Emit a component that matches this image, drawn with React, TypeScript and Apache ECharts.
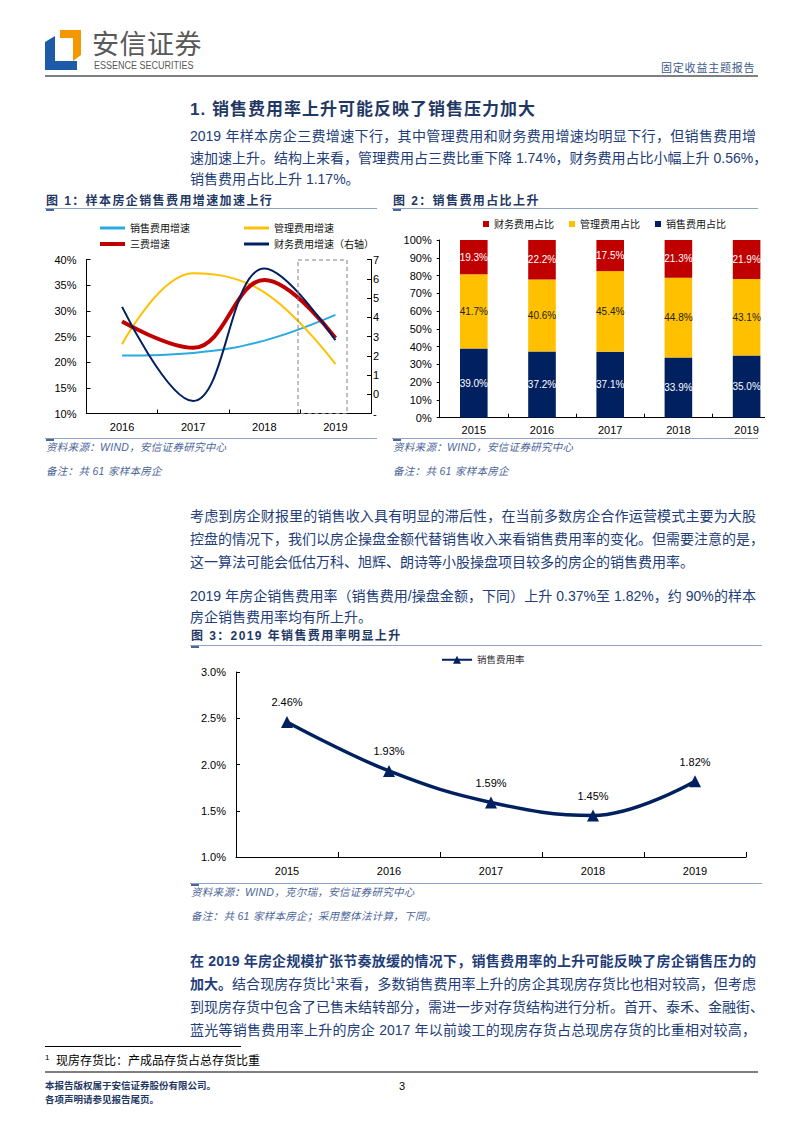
import React, { useEffect, useRef } from "react";
import * as echarts from "echarts";

// ---------- data ----------
const years1 = ["2016", "2017", "2018", "2019"];
const salesGrowth = [21.3, 21.8, 24.2, 29.2];
const adminGrowth = [23.5, 37.3, 33.6, 19.6];
const totalGrowth = [27.9, 22.8, 36.0, 24.7];
const financeGrowth = [45.4, -3.5, 65.3, 28.1];
const seriesNames1 = ["销售费用增速", "管理费用增速", "三费增速", "财务费用增速（右轴）"];

const years2 = ["2015", "2016", "2017", "2018", "2019"];
const salesShare = [39.0, 37.2, 37.1, 33.9, 35.0];
const adminShare = [41.7, 40.6, 45.4, 44.8, 43.1];
const financeShare = [19.3, 22.2, 17.5, 21.3, 21.9];
const seriesNames2 = ["财务费用占比", "管理费用占比", "销售费用占比"];

const years3 = ["2015", "2016", "2017", "2018", "2019"];
const salesRate = [2.46, 1.93, 1.59, 1.45, 1.82];
const seriesName3 = "销售费用率";

// ---------- styles ----------
const FONT = '"Liberation Sans", "Noto Sans CJK SC", sans-serif';
const TEXT = "#223d78";
const NAVY = "#002060";
const RED = "#c00000";
const YELLOW = "#ffc000";
const SKY = "#29abe2";
const RULE = "#8fa3c6";
const SRC = "#4a6598";

const abs = (o: any): React.CSSProperties => ({ position: "absolute", ...o });

function Line({ top, children, justify = true, bold = false }: any) {
  return (
    <div
      style={abs({
        left: 190,
        top: top - 11,
        width: 566,
        height: 22,
        lineHeight: "22px",
        fontSize: 14,
        color: TEXT,
        fontWeight: bold ? 700 : 400,
        textAlign: justify ? "justify" : "left",
        textAlignLast: justify ? "justify" : "left",
        whiteSpace: "nowrap",
      })}
    >
      {children}
    </div>
  );
}

function Rule({ left, top, width, tab = true }: any) {
  return (
    <>
      <div style={abs({ left, top, width, height: 1.2, background: RULE })} />
      {tab && <div style={abs({ left: left + 1, top: top + 1, width: 8, height: 2, background: SRC })} />}
    </>
  );
}

function FigTitle({ left, top, children }: any) {
  return (
    <div
      style={abs({
        left,
        top: top - 9,
        height: 18,
        lineHeight: "18px",
        fontSize: 12,
        letterSpacing: 1.4,
        fontWeight: 700,
        color: "#1f3864",
        whiteSpace: "nowrap",
      })}
    >
      {children}
    </div>
  );
}

function Src({ left, top, children }: any) {
  return (
    <div
      style={abs({
        left,
        top: top - 8,
        height: 16,
        lineHeight: "16px",
        fontSize: 10.5,
        fontStyle: "italic",
        color: SRC,
        whiteSpace: "nowrap",
        letterSpacing: 0.3,
      })}
    >
      {children}
    </div>
  );
}

export default function App() {
  const r1 = useRef<HTMLDivElement>(null);
  const r2 = useRef<HTMLDivElement>(null);
  const r3 = useRef<HTMLDivElement>(null);

  useEffect(() => {
    const c1 = echarts.init(r1.current!, null, { renderer: "svg" });
    const c2 = echarts.init(r2.current!, null, { renderer: "svg" });
    const c3 = echarts.init(r3.current!, null, { renderer: "svg" });

    const axisBase = {
      axisLine: { show: true, onZero: false, lineStyle: { color: "#000", width: 1 } },
      axisTick: { show: true, inside: true, length: 4, lineStyle: { color: "#000" } },
      splitLine: { show: false },
    };
    const legendItem = (name: string, left: number, top: number, h: number) => ({
      data: [name],
      left,
      top,
      padding: 0,
      icon: "rect",
      itemWidth: 25,
      itemHeight: h,
      selectedMode: false,
      textStyle: { fontSize: 10, color: "#111" },
    });

    const colors1 = [SKY, YELLOW, RED, NAVY];
    const widths1 = [2, 2, 4, 2];
    const data1 = [salesGrowth, adminGrowth, totalGrowth, financeGrowth];

    c1.setOption({
      animation: false,
      textStyle: { fontFamily: FONT },
      grid: { left: 41.5, top: 47.5, width: 284.5, height: 154 },
      legend: [
        legendItem(seriesNames1[0], 55, 11, 3),
        legendItem(seriesNames1[2], 55, 27, 4),
        legendItem(seriesNames1[1], 199, 11, 3),
        legendItem(seriesNames1[3], 199, 27, 3),
      ],
      xAxis: {
        type: "category",
        data: years1,
        ...axisBase,
        axisLabel: { color: "#000", fontSize: 11, margin: 8 },
      },
      yAxis: [
        {
          type: "value",
          min: 10,
          max: 40,
          interval: 5,
          ...axisBase,
          axisLabel: { color: "#000", fontSize: 11, margin: 10, formatter: "{value}%" },
        },
        {
          type: "value",
          position: "right",
          min: -10,
          max: 70,
          interval: 10,
          ...axisBase,
          // the reference frame cuts these labels down to their first glyph
          axisLabel: {
            color: "#000",
            fontSize: 11,
            margin: 2,
            formatter: (v: number) => `${v}%`.charAt(0),
          },
        },
      ],
      series: data1.map((d, i) => ({
        name: seriesNames1[i],
        type: "line",
        data: d,
        yAxisIndex: i === 3 ? 1 : 0,
        smooth: 0.4,
        showSymbol: false,
        symbol: "none",
        lineStyle: { color: colors1[i], width: widths1[i] },
        itemStyle: { color: colors1[i] },
      })),
      graphic: [
        {
          type: "rect",
          z: 100,
          shape: { x: 253, y: 48, width: 49, height: 153.5 },
          style: { fill: "none", stroke: "#808080", lineWidth: 1, lineDash: [4, 3] },
        },
      ],
    });

    const colors2 = [RED, YELLOW, NAVY];
    const data2 = [financeShare, adminShare, salesShare];
    const labelColors2 = ["#fff", "#222", "#fff"];
    const order2 = [2, 1, 0]; // stack bottom -> top
    c2.setOption({
      animation: false,
      textStyle: { fontFamily: FONT },
      grid: { left: 47.7, top: 28, width: 341, height: 177.7 },
      legend: {
        data: seriesNames2,
        left: 91,
        top: 7,
        padding: 0,
        icon: "rect",
        itemWidth: 6,
        itemHeight: 6,
        itemGap: 15,
        selectedMode: false,
        textStyle: { fontSize: 10, color: "#111" },
      },
      xAxis: {
        type: "category",
        data: years2,
        ...axisBase,
        axisLabel: { color: "#000", fontSize: 11, margin: 7 },
      },
      yAxis: {
        type: "value",
        min: 0,
        max: 100,
        interval: 10,
        ...axisBase,
        axisTick: { show: true, inside: false, length: 3, lineStyle: { color: "#000" } },
        axisLabel: { color: "#000", fontSize: 11, margin: 8, formatter: "{value}%" },
      },
      series: order2.map((i) => ({
        name: seriesNames2[i],
        type: "bar",
        stack: "share",
        data: data2[i],
        barWidth: 27.6,
        itemStyle: { color: colors2[i] },
        label: {
          show: true,
          position: "inside",
          color: labelColors2[i],
          fontSize: 10,
          formatter: (p: any) => `${Number(p.value).toFixed(1)}%`,
        },
      })),
    });

    c3.setOption({
      animation: false,
      textStyle: { fontFamily: FONT },
      grid: { left: 46, top: 22, width: 510, height: 185 },
      legend: {
        data: [seriesName3],
        left: 251,
        top: 5,
        padding: 0,
        itemWidth: 30,
        itemHeight: 10,
        selectedMode: false,
        textStyle: { fontSize: 9.5, color: "#333" },
      },
      xAxis: {
        type: "category",
        data: years3,
        ...axisBase,
        axisTick: { show: true, inside: true, length: 5, lineStyle: { color: "#000" } },
        axisLabel: { color: "#000", fontSize: 11, margin: 8 },
      },
      yAxis: {
        type: "value",
        min: 1,
        max: 3,
        interval: 0.5,
        ...axisBase,
        axisLabel: {
          color: "#000",
          fontSize: 11,
          margin: 10,
          formatter: (v: number) => `${v.toFixed(1)}%`,
        },
      },
      series: [
        {
          name: seriesName3,
          type: "line",
          data: salesRate,
          smooth: 0.4,
          symbol: "triangle",
          symbolSize: 12,
          lineStyle: { color: NAVY, width: 3.5 },
          itemStyle: { color: NAVY },
          label: {
            show: true,
            position: "top",
            distance: 8,
            color: "#000",
            fontSize: 11,
            formatter: (p: any) => `${Number(p.value).toFixed(2)}%`,
          },
        },
      ],
    });

    return () => {
      c1.dispose();
      c2.dispose();
      c3.dispose();
    };
  }, []);

  return (
    <div
      style={abs({
        left: 0,
        top: 0,
        width: 800,
        height: 1132,
        background: "#fff",
        overflow: "hidden",
        fontFamily: FONT,
      })}
    >
      {/* header */}
      <svg style={abs({ left: 0, top: 0 })} width={100} height={80}>
        <polygon points="60,30 81,30 81,55 73,61 73,38 60,38" fill="#f39800" />
        <polygon points="45,42 55,36 55,61 77,61 77,70 45,70" fill="#1d5aa8" />
      </svg>
      <div
        style={abs({
          left: 92,
          top: 29,
          height: 32,
          lineHeight: "32px",
          fontSize: 27,
          color: "#595959",
          letterSpacing: 0.5,
          whiteSpace: "nowrap",
        })}
      >
        安信证券
      </div>
      <div
        style={abs({
          left: 94,
          top: 59,
          height: 13,
          lineHeight: "13px",
          fontSize: 10,
          color: "#595959",
          whiteSpace: "nowrap",
          transform: "scaleX(0.9)",
          transformOrigin: "left center",
        })}
      >
        ESSENCE SECURITIES
      </div>
      <div
        style={abs({
          left: 661,
          top: 61,
          height: 14,
          lineHeight: "14px",
          fontSize: 11,
          color: "#3d5a8a",
          letterSpacing: 0.8,
          whiteSpace: "nowrap",
        })}
      >
        固定收益主题报告
      </div>
      <div style={abs({ left: 45, top: 75, width: 713, height: 2, background: "#7f7f7f" })} />

      {/* section heading */}
      <div
        style={abs({
          left: 190,
          top: 99,
          height: 22,
          lineHeight: "22px",
          fontSize: 17,
          fontWeight: 700,
          letterSpacing: 1,
          color: "#1f3864",
          whiteSpace: "nowrap",
        })}
      >
        1. 销售费用率上升可能反映了销售压力加大
      </div>

      <Line top={136}>2019 年样本房企三费增速下行，其中管理费用和财务费用增速均明显下行，但销售费用增</Line>
      <Line top={158}>速加速上升。结构上来看，管理费用占三费比重下降 1.74%，财务费用占比小幅上升 0.56%，</Line>
      <Line top={179} justify={false}>销售费用占比上升 1.17%。</Line>

      {/* figure 1 */}
      <FigTitle left={46} top={201}>图 1：样本房企销售费用增速加速上行</FigTitle>
      <Rule left={45} top={208} width={332} />
      <div style={abs({ left: 45, top: 212, width: 337, height: 224, overflow: "hidden" })}>
        <div ref={r1} style={{ width: 370, height: 224 }} />
      </div>
      <Rule left={45} top={438} width={332} />
      <Src left={46} top={447}>资料来源：WIND，安信证券研究中心</Src>
      <Src left={46} top={471}>备注：共 61 家样本房企</Src>

      {/* figure 2 */}
      <FigTitle left={393} top={201}>图 2：销售费用占比上升</FigTitle>
      <Rule left={392} top={208} width={366} />
      <div style={abs({ left: 392, top: 212, width: 373, height: 224, overflow: "hidden" })}>
        <div ref={r2} style={{ width: 420, height: 224 }} />
      </div>
      <Rule left={392} top={438} width={366} />
      <Src left={393} top={447}>资料来源：WIND，安信证券研究中心</Src>
      <Src left={393} top={471}>备注：共 61 家样本房企</Src>

      <Line top={516}>考虑到房企财报里的销售收入具有明显的滞后性，在当前多数房企合作运营模式主要为大股</Line>
      <Line top={539}>控盘的情况下，我们以房企操盘金额代替销售收入来看销售费用率的变化。但需要注意的是，</Line>
      <Line top={562} justify={false}>这一算法可能会低估万科、旭辉、朗诗等小股操盘项目较多的房企的销售费用率。</Line>

      <Line top={596}>2019 年房企销售费用率（销售费用/操盘金额，下同）上升 0.37%至 1.82%，约 90%的样本</Line>
      <Line top={617} justify={false}>房企销售费用率均有所上升。</Line>

      {/* figure 3 */}
      <FigTitle left={191} top={636}>图 3：2019 年销售费用率明显上升</FigTitle>
      <Rule left={190} top={645} width={572} />
      <div style={abs({ left: 190, top: 650, width: 575, height: 228 })}>
        <div ref={r3} style={{ width: 575, height: 228 }} />
      </div>
      <Rule left={190} top={883} width={572} />
      <Src left={191} top={892}>资料来源：WIND，克尔瑞，安信证券研究中心</Src>
      <Src left={191} top={916}>备注：共 61 家样本房企；采用整体法计算，下同。</Src>

      <Line top={961} bold>在 2019 年房企规模扩张节奏放缓的情况下，销售费用率的上升可能反映了房企销售压力的</Line>
      <Line top={984}>
        <b>加大。</b>结合现房存货比<sup style={{ fontSize: 9, lineHeight: 0 }}>1</sup>来看，多数销售费用率上升的房企其现房存货比也相对较高，但考虑
      </Line>
      <Line top={1007}>到现房存货中包含了已售未结转部分，需进一步对存货结构进行分析。首开、泰禾、金融街、</Line>
      <Line top={1030}>蓝光等销售费用率上升的房企 2017 年以前竣工的现房存货占总现房存货的比重相对较高，</Line>

      {/* footnote */}
      <div style={abs({ left: 45, top: 1046, width: 196, height: 1, background: "#000" })} />
      <div
        style={abs({
          left: 45,
          top: 1052,
          height: 18,
          lineHeight: "18px",
          fontSize: 12,
          color: "#000",
          whiteSpace: "nowrap",
        })}
      >
        <sup style={{ fontSize: 8, lineHeight: 0 }}>1</sup>&nbsp;&nbsp;现房存货比：产成品存货占总存货比重
      </div>
      <div style={abs({ left: 45, top: 1071, width: 713, height: 2, background: "#7f7f7f" })} />
      <div
        style={abs({
          left: 45,
          top: 1079,
          lineHeight: "14px",
          fontSize: 9.5,
          fontWeight: 700,
          color: "#1f3864",
          whiteSpace: "nowrap",
        })}
      >
        本报告版权属于安信证券股份有限公司。
        <br />
        各项声明请参见报告尾页。
      </div>
      <div style={abs({ left: 399, top: 1079, fontSize: 11, lineHeight: "14px", color: "#000" })}>3</div>
    </div>
  );
}
